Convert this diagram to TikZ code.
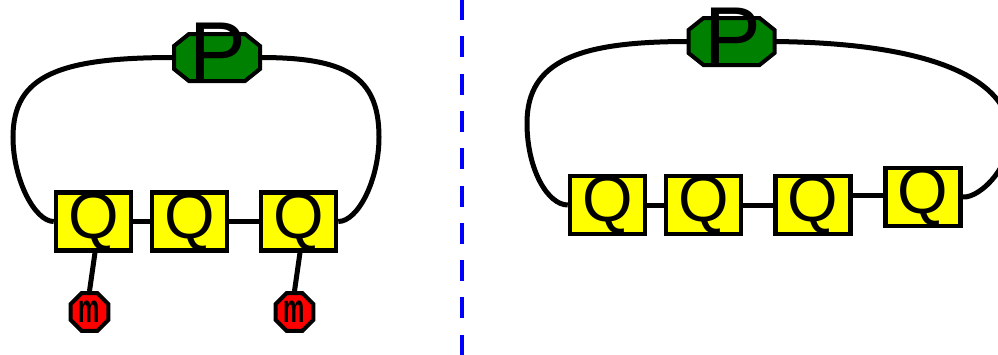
\documentclass[tikz,border=0pt]{standalone}
\usepackage{fontspec}
\setmainfont{Liberation Sans}
\usetikzlibrary{calc,shapes.geometric}
\definecolor{pgreen}{RGB}{0,128,0}
\definecolor{qyellow}{RGB}{255,255,0}
\definecolor{mred}{RGB}{255,0,0}
\definecolor{sepblue}{RGB}{0,0,255}
\newcommand\drawocta[1]{%
  \filldraw[octo] ($(#1.north west)+(15,0)$) -- ($(#1.north east)+(-15,0)$)
    -- ($(#1.north east)+(0,12)$) -- ($(#1.south east)+(0,-12)$)
    -- ($(#1.south east)+(-15,0)$) -- ($(#1.south west)+(15,0)$)
    -- ($(#1.south west)+(0,-12)$) -- ($(#1.north west)+(0,12)$) -- cycle;}
\begin{document}
\begin{tikzpicture}[x=1pt,y=-1pt,
  wire/.style={line width=5pt, line cap=butt},
  octframe/.style={rectangle, minimum width=86pt, minimum height=47pt, inner sep=0pt, outer sep=0pt},
  octo/.style={draw=black, fill=pgreen, line width=4pt, line join=miter},
  ptext/.style={inner sep=0pt, font=\fontsize{85}{85}\selectfont},
  qbox/.style={draw=black, fill=qyellow, line width=4.5pt, minimum width=75pt, minimum height=54pt, inner sep=0pt, font=\fontsize{65}{65}\selectfont},
  mnode/.style={regular polygon, regular polygon sides=8, draw=black, fill=mred, line width=4pt, minimum size=41pt, inner sep=0pt, font=\bfseries\fontsize{40}{40}\selectfont},
  sep/.style={draw=sepblue, line width=4.5pt, dash pattern=on 21pt off 16.3pt}]
\useasboundingbox (0,0) rectangle (998,354);
\clip (0,0) rectangle (998,354);

% ---------- left diagram ----------
\node[octframe] (Po1) at (217,57.5) {};
\node[qbox] (Q1) at (93.5,221.5) {Q};
\node[qbox] (Q2) at (189.5,221.5) {Q};
\node[qbox] (Q3) at (298.5,221.5) {Q};
\node[mnode] (m1) at (89.5,312) {\scalebox{0.6}[1]{m}};
\node[mnode] (m2) at (294.5,312) {\scalebox{0.6}[1]{m}};

\draw[wire] (Po1.west) .. controls (60,57.5) and (13,75) .. (13,137)
  .. controls (13,180) and (35,221.5) .. (Q1.west);
\draw[wire] (Po1.east) .. controls (344,57.5) and (379,75) .. (379,137)
  .. controls (379,180) and (358,221.5) .. (Q3.east);
\draw[wire] (Q1.east) -- (Q2.west);
\draw[wire] (Q2.east) -- (Q3.west);
\draw[wire] ([xshift=1.5pt]Q1.south) -- (m1.north);
\draw[wire] ([xshift=1.5pt]Q3.south) -- (m2.north);
\drawocta{Po1}
\node[ptext] (Pt1) at (217.5,52.5) {P};

% ---------- separator ----------
\coordinate (s1) at (462,-1);
\coordinate (s2) at (462,360);
\draw[sep] (s1) -- (s2);

% ---------- right diagram ----------
\node[octframe] (Po2) at (731.5,41.5) {};
\node[qbox] (R1) at (607.5,205) {Q};
\node[qbox] (R2) at (703.5,205) {Q};
\node[qbox] (R3) at (813,205) {Q};
\node[qbox] (R4) at (923,197) {Q};

\draw[wire] (Po2.west) .. controls (580,41.5) and (527,60) .. (527,123)
  .. controls (527,170) and (548,205) .. (R1.west);
\draw[wire] (Po2.east) .. controls (1110,45) and (1000,200) .. (R4.east);
\draw[wire] (R1.east) -- (R2.west);
\draw[wire] (R2.east) -- (R3.west);
\draw[wire] ([yshift=2pt]R4.west) -- ([yshift=2pt]R4.west -| R3.east);
\drawocta{Po2}
\node[ptext] (Pt2) at (733,37.5) {P};
\end{tikzpicture}
\end{document}
